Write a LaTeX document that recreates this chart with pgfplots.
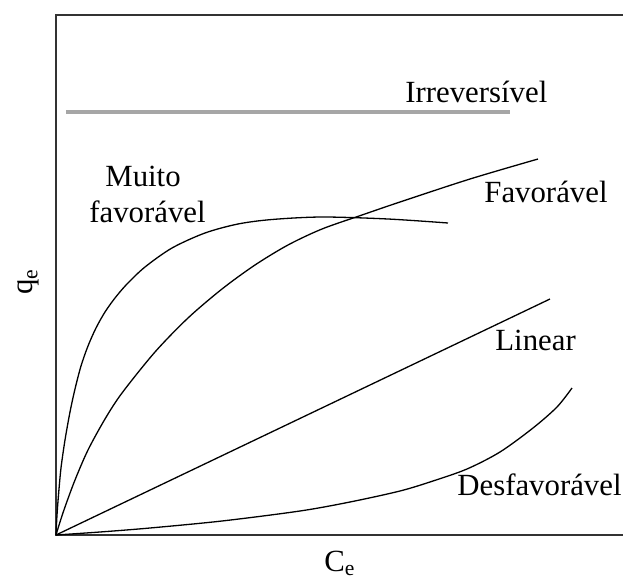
\documentclass[border=0pt]{standalone}
\usepackage{fontspec}
\setmainfont{Liberation Serif}
\usepackage{pgfplots}
\pgfplotsset{compat=1.18}
\begin{document}
\fontsize{15.4}{18}\selectfont
\begin{tikzpicture}
\begin{axis}[
  x=0.5pt, y=0.5pt,
  y dir=reverse,
  xmin=56, xmax=628, ymin=15, ymax=535,
  anchor=south west, at={(28pt,22pt)},
  xtick=\empty, ytick=\empty,
  axis line style={draw=black!80, line width=1pt},
  clip=false,
  no marks,
  every axis plot/.append style={line width=0.65pt, black},
]
% Irreversivel
\addplot[color=black!35, line width=1.7pt] coordinates {(66,112) (510,112)};
% Muito favoravel
\addplot[smooth, tension=0.5] coordinates {
(56,535) (57,515) (58.5,495) (61,468) (65,440) (70,412) (75,389) (81,366) (88,346) (96,328) (105,312) (115,298) (127,284) (145,267)
(172,248) (205,233) (238,224) (272,219.5) (322,217) (388,219) (448,223)};
% Favoravel
\addplot[smooth, tension=0.5] coordinates {
(56,535) (60,522) (65,507) (75,480) (88,450) (105,419) (122,393) (155,352) (188,318) (222,289) (255,265)
(288,245) (322,229) (362,215) (400,202) (470,179) (538,159)};
% Linear
\addplot coordinates {(56,535) (550,299)};
% Desfavoravel
\addplot[smooth, tension=0.5] coordinates {
(56,535) (100,532) (150,528) (222,521) (300,511) (350,502) (400,491) (433,481) (467,469)
(500,452) (533,428) (557,407) (572,388)};
% labels
\node[anchor=base west, inner sep=0pt] at (axis cs:405,102) {Irreversível};
\node[anchor=base west, inner sep=0pt] at (axis cs:105,186) {Muito};
\node[anchor=base west, inner sep=0pt] at (axis cs:89,222) {favorável};
\node[anchor=base west, inner sep=0pt] at (axis cs:484,202) {Favorável};
\node[anchor=base west, inner sep=0pt] at (axis cs:495,350) {Linear};
\node[anchor=base west, inner sep=0pt] at (axis cs:457,495) {Desfavorável};
\node[anchor=base, inner sep=0pt] at (axis cs:340,571) {C\textsubscript{e}};
\node[rotate=90, anchor=base, inner sep=0pt] at (axis cs:33,282) {q\textsubscript{e}};
\end{axis}
\pgfresetboundingbox
\useasboundingbox (0,0) rectangle (311.5pt,289.5pt);
\end{tikzpicture}
\end{document}
